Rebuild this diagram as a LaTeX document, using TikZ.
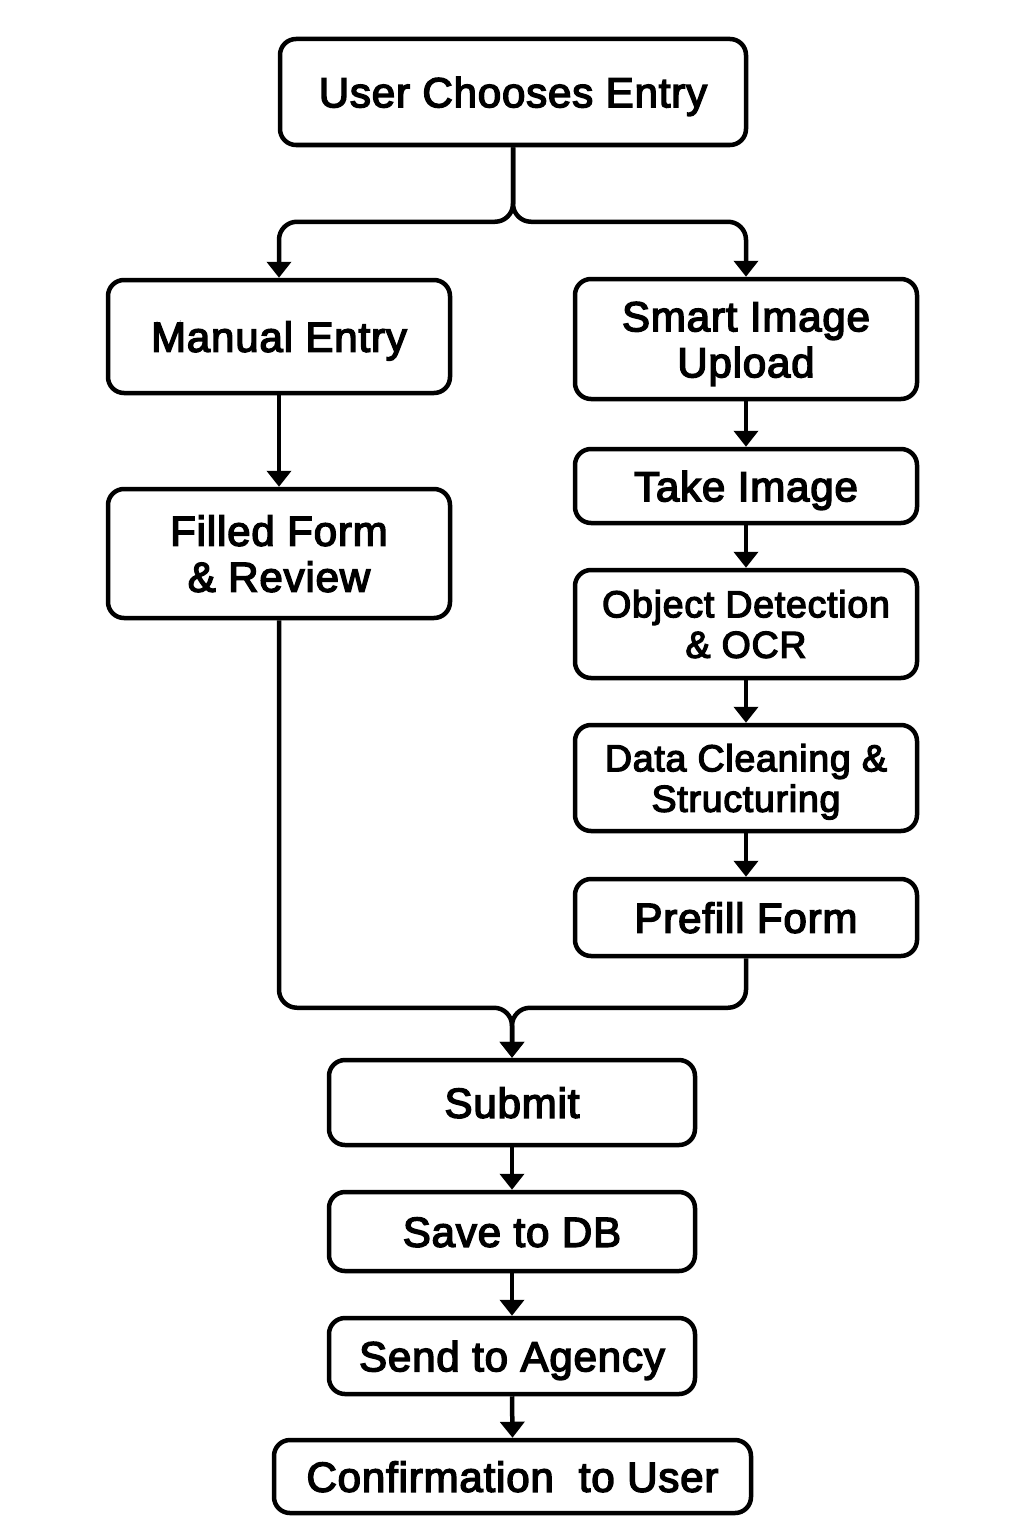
\documentclass[tikz,border=0pt]{standalone}
\usepackage{fontspec}
\newfontfamily\boxfont{Liberation Sans}[FakeBold=3.5, LetterSpace=2]
\usetikzlibrary{arrows.meta}
\begin{document}
\begin{tikzpicture}[x=1pt,y=-1pt,line width=4.5pt,
  box/.style={draw, rounded corners=16pt, inner sep=0pt, align=center,
    font=\boxfont\fontsize{42}{46}\selectfont, text height=30.5pt, text depth=0pt},
  twoline/.style={text height=76.5pt, text depth=0pt},
  smalltwo/.style={font=\boxfont\fontsize{37.5}{40.5}\selectfont, text height=67.5pt, text depth=0pt},
  arr/.style={-{Triangle[length=16pt,width=24pt]}, line width=4.5pt}]
\fill[white] (0,0) rectangle (1024,1536);
\useasboundingbox (0,0) rectangle (1024,1536);

\node[box, minimum width=466pt, minimum height=106pt] (ce) at (513,92) {User Chooses Entry};
\node[box, minimum width=342pt, minimum height=113pt] (me) at (279,336.5) {Manual Entry};
\node[box, twoline, minimum width=342pt, minimum height=120pt] (su) at (746,339) {Smart Image\\Upload};
\node[box, minimum width=342pt, minimum height=74pt] (ti) at (746,486) {Take Image};
\node[box, smalltwo, minimum width=342pt, minimum height=108pt] (od) at (746,624) {Object Detection\\\& OCR};
\node[box, smalltwo, minimum width=342pt, minimum height=106pt] (dc) at (746,778) {Data Cleaning \&\\Structuring};
\node[box, minimum width=342pt, minimum height=77pt] (pf) at (746,917.5) {Prefill Form};
\node[box, twoline, minimum width=342pt, minimum height=129pt] (ff) at (279,553.5) {Filled Form\\\& Review};
\node[box, minimum width=366pt, minimum height=85pt] (sb) at (512,1102.5) {Submit};
\node[box, minimum width=366pt, minimum height=79pt] (sd) at (512,1231.5) {Save to DB};
\node[box, minimum width=366pt, minimum height=76pt] (sa) at (512,1356) {Send to Agency};
\node[box, minimum width=477pt, minimum height=73pt] (cu) at (512.5,1476.5) {Confirmation~~to User};

\draw[arr] (ce.south) [rounded corners=18pt] |- ([yshift=56pt]me.north) [sharp corners] -- (me.north);
\draw[arr] (ce.south) [rounded corners=18pt] |- ([yshift=55pt]su.north) [sharp corners] -- (su.north);
\draw[arr] (me.south) -- (ff.north);
\draw[arr] (su.south) -- (ti.north);
\draw[arr] (ti.south) -- (od.north);
\draw[arr] (od.south) -- (dc.north);
\draw[arr] (dc.south) -- (pf.north);
\draw[arr] (ff.south) [rounded corners=18pt] |- ([yshift=50pt]sb.north) -- (sb.north);
\draw[arr] (pf.south) [rounded corners=18pt] |- ([yshift=50pt]sb.north) -- (sb.north);
\draw[arr] (sb.south) -- (sd.north);
\draw[arr] (sd.south) -- (sa.north);
\draw[arr] (sa.south) -- (cu.north);
\end{tikzpicture}
\end{document}
